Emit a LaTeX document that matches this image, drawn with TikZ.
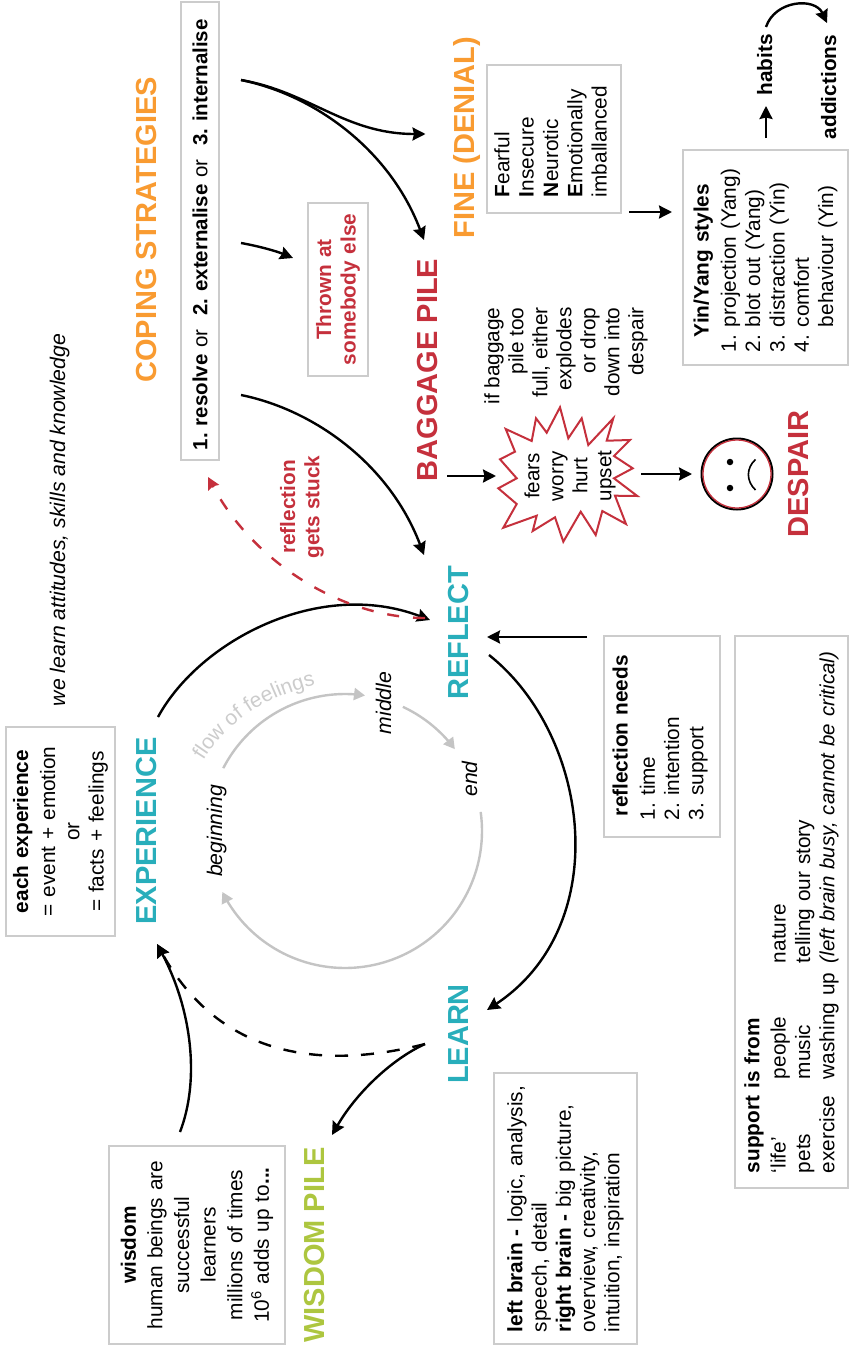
\documentclass[tikz,border=0pt]{standalone}
\usepackage{fontspec}
\setmainfont{Liberation Sans}
\usetikzlibrary{arrows.meta,decorations.text}
\definecolor{orangeH}{HTML}{F99B31}
\definecolor{redH}{HTML}{C5303C}
\definecolor{tealH}{HTML}{28AEBB}
\definecolor{greenH}{HTML}{ADC63F}
\definecolor{boxgray}{HTML}{CCCCCC}
\definecolor{arcgray}{HTML}{C4C4C4}
\frenchspacing
\hyphenpenalty=10000
\newcommand{\bodyfont}{\fontsize{20.8}{24.3}\selectfont}
\newcommand{\labelfont}{\fontsize{21.2}{24.3}\selectfont\itshape}
\newcommand{\headfont}{\fontsize{29}{33}\selectfont\bfseries}
\tikzset{
  x=1pt,y=-1pt,
  headtext/.style={rotate=90,anchor=base,inner sep=0pt,font=\headfont},
  bodytext/.style={rotate=90,inner sep=0pt,font=\bodyfont},
  boxtext/.style={rotate=90,draw=boxgray,line width=1.6pt,font=\bodyfont,inner ysep=0pt,align=left},
  conn/.style={draw=black,line width=2.4pt,-{Stealth[length=13pt,width=13pt,inset=1.5pt]}},
  dashconn/.style={conn,dash pattern=on 13pt off 13pt},
  grayarc/.style={draw=arcgray,line width=2.4pt,-{Triangle[length=11pt,width=12pt]}},
}
\begin{document}
\begin{tikzpicture}
\useasboundingbox[fill=white] (0,0) rectangle (849,1346);
% headings
\node[headtext,text=orangeH] (coping) at (156,230) {COPING STRATEGIES};
\node[headtext,text=orangeH] (fine) at (474,138) {FINE (DENIAL)};
\node[headtext,text=redH] (baggage) at (437,370) {BAGGAGE PILE};
\node[headtext,text=redH] (despair) at (808,474) {DESPAIR};
\node[headtext,text=tealH] (experience) at (156,831) {EXPERIENCE};
\node[headtext,text=tealH] (reflect) at (468,633) {REFLECT};
\node[headtext,text=tealH] (learn) at (468,1034) {LEARN};
\node[headtext,text=greenH] (wisdompile) at (324,1245) {WISDOM PILE};
% boxes
\node[boxtext,minimum width=458pt,minimum height=38pt,text width=438pt,inner xsep=10pt,font=\fontsize{20.5}{24.3}\selectfont] (strategies) at (200,231)
 {\mbox{\textbf{1. resolve} or\ \ \textbf{2. externalise} or\ \ \textbf{3. internalise}}};
\node[boxtext,minimum width=173pt,minimum height=60pt,text width=173pt,inner xsep=0pt,align=center,text=redH,font=\bodyfont\bfseries] (thrown) at (338,289.5)
 {Thrown at\\somebody else};
\node[boxtext,minimum width=148pt,minimum height=134pt,text width=116pt,inner xsep=16pt] (finebox) at (554,139)
 {\textbf{F}earful\\\textbf{I}nsecure\\\textbf{N}eurotic\\\textbf{E}motionally\\imballanced\rule[-7pt]{0pt}{0pt}};
\node[boxtext,minimum width=215pt,minimum height=165pt,text width=189pt,inner xsep=13pt] (yinyang) at (765.5,257.5)
 {\hspace*{15pt}\textbf{Yin/Yang styles}\\[3pt]
  \makebox[25pt][l]{1.}projection (Yang)\\\makebox[25pt][l]{2.}blot out (Yang)\\\makebox[25pt][l]{3.}distraction (Yin)\\\makebox[25pt][l]{4.}comfort\\\makebox[25pt][l]{}behaviour (Yin)};
\node[boxtext,minimum width=201pt,minimum height=116pt,text width=167pt,inner xsep=17pt] (needs) at (662,736.5)
 {\mbox{\hspace*{4pt}\textbf{reflection needs}}\\[3pt]1. time\\2. intention\\3. support\rule[-8pt]{0pt}{0pt}};
\node[boxtext,minimum width=552pt,minimum height=113pt,text width=522pt,inner xsep=15pt] (support) at (791.5,912)
 {\textbf{support is from}\\[2pt]
  \makebox[94pt][l]{‘life’}\makebox[116pt][l]{people}nature\\
  \makebox[94pt][l]{pets}\makebox[116pt][l]{music}telling our story\\
  \mbox{\makebox[94pt][l]{exercise}\makebox[116pt][l]{washing up}{\fontsize{20.5}{24.3}\selectfont\itshape (left brain busy, cannot be critical)}}};
\node[boxtext,minimum width=271pt,minimum height=143pt,text width=251pt,inner xsep=10pt] (brain) at (565.5,1208.5)
 {\mbox{\hspace*{2pt}\textbf{left brain -} logic, analysis,}\\\hspace*{2pt}speech, detail\\\mbox{\hspace*{2pt}\textbf{right brain -} big picture,}\\\hspace*{2pt}overview, creativity,\\\hspace*{2pt}intuition, inspiration};
\node[boxtext,minimum width=198pt,minimum height=176pt,text width=198pt,inner xsep=0pt,align=center,font=\fontsize{20.8}{26.6}\selectfont] (wisdom) at (197,1245)
 {\textbf{wisdom}\\human beings are\\successful\\learners\\millions of times\\10\textsuperscript{6} adds up to\textbf{...}};
\node[boxtext,minimum width=209pt,minimum height=109pt,text width=209pt,inner xsep=0pt,align=center] (each) at (60.5,831.5)
 {\textbf{each experience}\\[2.7pt]= event + emotion\\or\\= facts + feelings};
% free texts
\node[bodytext,font=\labelfont,anchor=base] (learnline) at (65,520) {we learn attitudes, skills and knowledge};
\node[bodytext,align=center,text=redH,font=\bodyfont\bfseries] (stuck) at (302,507) {reflection\\gets stuck};
\node[bodytext,align=right,font=\fontsize{20.8}{24}\selectfont] (ifbag) at (566,356) {if baggage\\pile too\\full, either\\explodes\\or drop\\down into\\despair};
\node[bodytext,font=\labelfont,anchor=base] (beginning) at (222,831) {beginning};
\node[bodytext,font=\labelfont,anchor=base] (middle) at (391,703) {middle};
\node[bodytext,font=\labelfont,anchor=base] (endtext) at (477,779) {end};
\node[bodytext,font=\bodyfont\bfseries,anchor=base] (habits) at (772,65) {habits};
\node[bodytext,font=\bodyfont\bfseries,anchor=base] (addictions) at (836,87) {addictions};
% explosion
\draw[redH,line width=2pt,line join=miter,miter limit=10]
 (560,407.3) -- (568.3,438.3) -- (581.7,418.3) -- (588.3,445) -- (613.3,418.3) -- (606.7,440.7) -- (630,440) -- (614,456) -- (632.7,468.3) -- (614,478.3) -- (637.3,496) -- (615,495.7) -- (626,524) -- (602.3,511) -- (595.7,535) -- (580.7,511.7) -- (563.3,541.7) -- (555,517.3) -- (532.7,531) -- (536.7,515.7) -- (503.3,527.7) -- (516.7,504) -- (498.3,488.3) -- (516.7,478.3) -- (500,459.3) -- (515,451.7) -- (505.7,429) -- (531.7,441) -- (536,418.3) -- (546.7,432.7) -- cycle;
\node[bodytext,align=center,font=\fontsize{20.6}{24}\selectfont] (burst) at (570,476) {fears\\worry\\hurt\\upset};
% face
\node[circle,draw=black,line width=2pt,minimum size=71pt,inner sep=0pt] (face) at (737,474) {};
\node[circle,draw=redH,line width=1.3pt,minimum size=68pt,inner sep=0pt] (faceinner) at (737,474) {};
\node[circle,fill=black,minimum size=6.5pt,inner sep=0pt] (eyea) at (730,462) {};
\node[circle,fill=black,minimum size=6.5pt,inner sep=0pt] (eyeb) at (730,488) {};
\coordinate (moutha) at (755.5,459.5);
\coordinate (mouthb) at (755.5,490);
\draw[black,line width=1.6pt] (moutha) .. controls (746,468) and (746,481) .. (mouthb);
% connector ends
\coordinate (s3) at (241,80);
\coordinate (fineIn) at (425.5,134);
\coordinate (bagIn) at (424,240);
\coordinate (s2) at (241,243);
\coordinate (thrownIn) at (293,258);
\coordinate (s1) at (241,395);
\coordinate (refIn) at (424,555);
\coordinate (expOut) at (158,717);
\coordinate (refIn2) at (430,620);
\coordinate (refOut) at (489,655);
\coordinate (learnIn) at (487,1010);
\coordinate (learnOut) at (425,1044);
\coordinate (wisdomIn) at (332,1135);
\coordinate (expIn) at (157,944);
\coordinate (wisdomOut) at (180,1132);
\coordinate (refStuck) at (425,618);
\coordinate (stratIn) at (208,477);
\coordinate (habA) at (766,27);
\coordinate (habB) at (827,23);
\coordinate (toHabA) at (766,138);
\coordinate (toHabB) at (766,106);
\coordinate (needsOut) at (587,637);
\coordinate (needsIn) at (487,637);
\coordinate (fineOut) at (629,212);
\coordinate (yinIn) at (672,212);
\coordinate (bagOut) at (447,476);
\coordinate (burstIn) at (496,476);
\coordinate (burstOut) at (641,474);
\coordinate (faceIn) at (692,474);
% black connectors
\draw[conn] (s3) .. controls (310,92) and (345,134) .. (fineIn);
\draw[conn] (s3) .. controls (315,95) and (390,150) .. (bagIn);
\draw[conn] (s2) .. controls (258,246) and (276,251) .. (thrownIn);
\draw[conn] (s1) .. controls (315,410) and (390,465) .. (refIn);
\draw[conn] (expOut) .. controls (200,640) and (320,578) .. (refIn2);
\draw[conn,draw=redH,redH,line width=2.4pt,dash pattern=on 12pt off 14pt,-{Stealth[length=12pt,width=12pt,inset=1.5pt]}] (refStuck) .. controls (345,618) and (255,565) .. (stratIn);
\draw[conn] (refOut) .. controls (590,735) and (615,925) .. (learnIn);
\draw[conn] (learnOut) .. controls (390,1060) and (355,1095) .. (wisdomIn);
\draw[dashconn] (learnOut) .. controls (350,1063) and (229,1074) .. (expIn);
\draw[conn] (wisdomOut) .. controls (200,1080) and (192,1010) .. (expIn);
\draw[conn] (habA) .. controls (775,0) and (815,-3) .. (habB);
\draw[conn] (toHabA) -- (toHabB);
\draw[conn] (needsOut) -- (needsIn);
\draw[conn] (fineOut) -- (yinIn);
\draw[conn] (bagOut) -- (burstIn);
\draw[conn] (burstOut) -- (faceIn);
% gray circle
\draw[grayarc] plot[domain=207.3:278.4,samples=40,variable=\t] ({345+137*cos(\t)},{831+137*sin(\t)});
\draw[grayarc] plot[domain=295:323.3,samples=20,variable=\t] ({345+137*cos(\t)},{831+137*sin(\t)});
\draw[grayarc] plot[domain=-8:153.6,samples=80,variable=\t] ({345+137*cos(\t)},{831+137*sin(\t)});
% curved label
\coordinate (flowA) at (203,761);
\coordinate (flowB) at (316,685);
\path[decorate,decoration={text along path,text align=center,text={|\fontsize{21}{24}\selectfont\color{boxgray}|flow of feelings}}]
 (flowA) .. controls (232,714) and (275,695) .. (flowB);
\end{tikzpicture}
\end{document}
